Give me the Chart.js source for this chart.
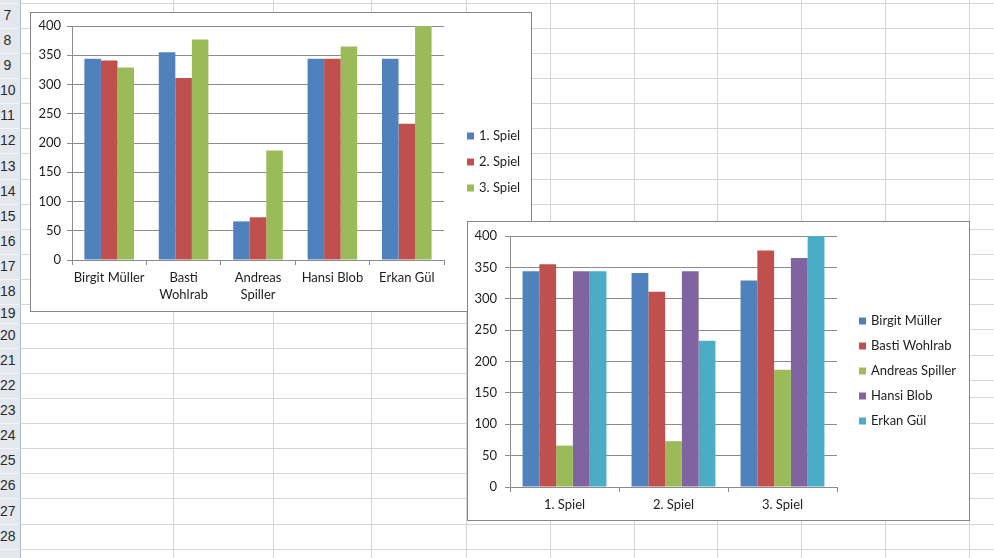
<!DOCTYPE html>
<html>
<head>
<meta charset="utf-8">
<script src="https://cdn.jsdelivr.net/npm/chart.js@4/dist/chart.umd.min.js"></script>
<style>
  body { margin: 0; width: 994px; height: 558px; overflow: hidden; background: #fff; position: relative; }
  .hline, .vline { position: absolute; background: #d6d6d6; }
  .rowhead { position: absolute; left: 0; top: 0; width: 20px; height: 558px; background: #e4e8ee; border-right: 1px solid #b8bdc5; }
  .rowsep { position: absolute; left: 0; width: 20px; height: 1px; background: #f3f4f6; }
  .rownum { position: absolute; left: 0; width: 15px; text-align: center; font: 14px "Liberation Sans", Arial, sans-serif; color: #2a2a2a; }
  .box { position: absolute; background: #fff; border: 1px solid #878787; }
  .box canvas { display: block; }
</style>
</head>
<body>
<div id="sheet"></div>
<div class="box" style="left:30px;top:12px;width:500px;height:298px"><canvas id="chart1" width="500" height="298"></canvas></div>
<div class="box" style="left:467px;top:221px;width:501px;height:298px"><canvas id="chart2" width="501" height="298"></canvas></div>
<script>
// data
const players = ['Birgit Müller', 'Basti Wohlrab', 'Andreas Spiller', 'Hansi Blob', 'Erkan Gül'];
const playerTicks = ['Birgit Müller', ['Basti', 'Wohlrab'], ['Andreas', 'Spiller'], 'Hansi Blob', 'Erkan Gül'];
const games = ['1. Spiel', '2. Spiel', '3. Spiel'];
const spiel1 = [344, 355, 66, 344, 344];
const spiel2 = [341, 311, 73, 344, 233];
const spiel3 = [329, 377, 187, 365, 400];

const colors = ['#4F81BD', '#C0504D', '#9BBB59', '#8064A2', '#4BACC6'];

// spreadsheet background
const rowNumbers = [7, 8, 9, 10, 11, 12, 13, 14, 15, 16, 17, 18, 19, 20, 21, 22, 23, 24, 25, 26, 27, 28];
const rowLinesLeft = [3, 28, 53, 78, 103, 128, 153, 179, 204, 229, 254, 279, 304, 323, 348, 373, 398, 423, 448, 473, 498, 524, 549];
const rowLinesRight = [3, 28, 53, 78, 103, 128, 153, 179, 204, 229, 254, 279, 304, 329, 355, 380, 397, 423, 448, 473, 498, 524, 549];
const colLines = [173, 273, 371, 466, 550, 634, 717, 801, 885, 969];

const sheet = document.getElementById('sheet');
function addDiv(cls, css, text) {
  const d = document.createElement('div');
  d.className = cls;
  d.style.cssText = css;
  if (text !== undefined) d.textContent = text;
  sheet.appendChild(d);
}
rowLinesLeft.forEach((y) => addDiv('hline', `left:21px;top:${y}px;width:447px;height:1px`));
rowLinesRight.forEach((y) => addDiv('hline', `left:468px;top:${y}px;width:526px;height:1px`));
colLines.forEach((x) => addDiv('vline', `left:${x}px;top:0;width:1px;height:558px`));
addDiv('rowhead', '');
rowLinesLeft.forEach((y) => addDiv('rowsep', `top:${y}px`));
rowNumbers.forEach((n, i) => {
  const top = rowLinesLeft[i];
  const h = rowLinesLeft[i + 1] - top;
  addDiv('rownum', `top:${top}px;height:${h}px;line-height:${h}px`, n);
});

// charts
Chart.defaults.font.family = 'Lato';
Chart.defaults.font.size = 13;
Chart.defaults.color = '#1e1e1e';

const sideLegend = {
  id: 'sideLegend',
  afterDraw(chart, args, opts) {
    const ctx = chart.ctx;
    ctx.save();
    ctx.font = '13px Lato';
    ctx.textBaseline = 'middle';
    chart.data.datasets.forEach((ds, i) => {
      const y = opts.y + i * opts.step;
      ctx.fillStyle = ds.backgroundColor;
      ctx.fillRect(opts.x, y - 3.5, 7, 7);
      ctx.fillStyle = '#1e1e1e';
      ctx.fillText(ds.label, opts.x + 12, y);
    });
    ctx.restore();
  }
};

function barChart(id, labels, datasets, s) {
  return new Chart(document.getElementById(id), {
    type: 'bar',
    data: { labels: labels, datasets: datasets },
    plugins: [sideLegend],
    options: {
      responsive: false,
      animation: false,
      layout: { padding: { top: s.top, right: s.right, bottom: 0, left: 0 } },
      datasets: { bar: { categoryPercentage: s.catPct, barPercentage: 1 } },
      plugins: {
        legend: { display: false },
        tooltip: { enabled: false },
        sideLegend: { x: s.legendX, y: s.legendY, step: s.legendStep }
      },
      scales: {
        x: {
          grid: { offset: true, drawOnChartArea: false, tickLength: 5, color: '#8c8c8c' },
          border: { color: '#8c8c8c' },
          ticks: { padding: 4, maxRotation: 0, autoSkip: false, font: { size: 13, lineHeight: 1.3 } },
          afterFit: (sc) => { sc.height = s.xHeight; sc.paddingLeft = 0; sc.paddingRight = 0; }
        },
        y: {
          min: 0,
          max: 400,
          ticks: { stepSize: 50, padding: s.yPad },
          grid: { color: '#8c8c8c', tickLength: 5 },
          border: { color: '#8c8c8c' },
          afterFit: (sc) => { sc.width = s.yWidth; sc.paddingTop = 0; sc.paddingBottom = 0; }
        }
      }
    }
  });
}

const byGame = [spiel1, spiel2, spiel3];

barChart('chart1', playerTicks,
  games.map((g, i) => ({ label: g, data: byGame[i], backgroundColor: colors[i] })),
  { top: 13, right: 87, catPct: 3 / 4.5, xHeight: 51, yWidth: 41, yPad: 6,
    legendX: 436, legendY: 123, legendStep: 26 });

barChart('chart2', games,
  players.map((p, i) => ({ label: p, data: byGame.map((d) => d[i]), backgroundColor: colors[i] })),
  { top: 14, right: 132, catPct: 5 / 6.5, xHeight: 33, yWidth: 42, yPad: 8,
    legendX: 391, legendY: 99, legendStep: 25 });
</script>
</body>
</html>
